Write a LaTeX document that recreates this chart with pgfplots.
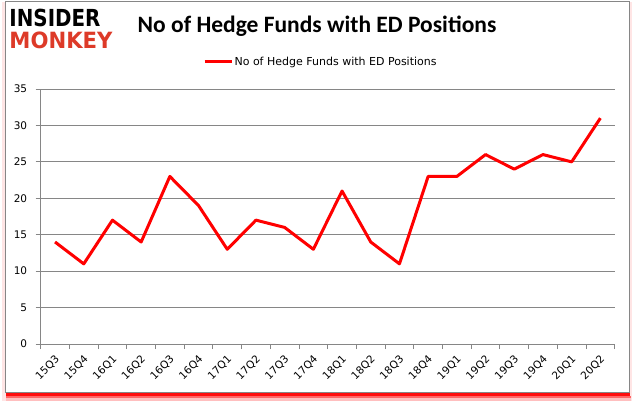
\documentclass[border=0pt]{standalone}
\usepackage{fontspec}
\setmainfont{DejaVu Sans}
\newfontfamily\titlefont{Carlito}
\usepackage{graphicx}
\usepackage{pgfplots}
\pgfplotsset{compat=1.18}
\definecolor{imred}{RGB}{255,0,0}
\definecolor{gridgray}{RGB}{134,134,134}
\definecolor{monkeyred}{RGB}{221,58,40}

\begin{document}
\begin{tikzpicture}[x=1bp,y=1bp]
\useasboundingbox (0,0) rectangle (635,405);
% shadow and frame
\fill[red!10] (2,4) rectangle (632,403);
\fill[red!25] (6,4) rectangle (631,7);
\fill[red!60] (6,7) rectangle (631,9);
\fill[red!95] (6,9) rectangle (630,13);
\draw[gridgray, fill=white] (5,13) rectangle (629,404);
% logo
\node[anchor=north west, inner sep=0pt] at (9.3,395.7) {\resizebox{91bp}{17.4bp}{\bfseries INSIDER}};
\node[anchor=north west, inner sep=0pt, text=monkeyred] at (9.3,373.3) {\resizebox{103bp}{16.6bp}{\bfseries MONKEY}};
% title
\node[anchor=base, inner sep=0pt] at (317,372.7) {\titlefont\bfseries\fontsize{23.5bp}{28bp}\selectfont No of Hedge Funds with ED Positions};

\begin{axis}[
	at={(40.7bp,61bp)}, anchor=south west,
	scale only axis, width=574bp, height=255bp,
	xmin=-0.5, xmax=19.5, ymin=0, ymax=35,
	ytick={0,5,...,35},
	xtick={0,...,19},
	xticklabels={15Q3,15Q4,16Q1,16Q2,16Q3,16Q4,17Q1,17Q2,17Q3,17Q4,18Q1,18Q2,18Q3,18Q4,19Q1,19Q2,19Q3,19Q4,20Q1,20Q2},
	minor xtick={-0.5,0.5,...,19.5},
	axis x line*=bottom, axis y line*=left,
	axis line style={draw=gridgray, line width=1bp, -},
	ymajorgrids, grid style={draw=gridgray, line width=1bp},
	tick style={draw=gridgray, line width=1bp},
	major x tick style={draw=none},
	tick align=outside, major tick length=5bp, minor tick length=5bp,
	ticklabel style={font=\fontsize{10.5bp}{12bp}\selectfont, text=black},
	/pgf/number format/assume math mode=true,
	yticklabel style={xshift=-5bp},
	xticklabel style={rotate=45, anchor=north east, xshift=-1bp},
	legend style={at={(axis description cs:0.2825,1.107)}, anchor=west,
		draw=none, fill=none, inner sep=0pt,
		font=\fontsize{11bp}{13bp}\selectfont,
		nodes={inner xsep=1.5bp}},
	legend image code/.code={\draw[#1] (0bp,0bp) -- (27bp,0bp);},
	clip=false,
	]
	\addplot[imred, line width=3bp, line join=round] coordinates {
		(0,14) (1,11) (2,17) (3,14) (4,23) (5,19) (6,13) (7,17) (8,16) (9,13)
		(10,21) (11,14) (12,11) (13,23) (14,23) (15,26) (16,24) (17,26) (18,25) (19,31)};
	\addlegendentry{No of Hedge Funds with ED Positions}
\end{axis}
\end{tikzpicture}
\end{document}
